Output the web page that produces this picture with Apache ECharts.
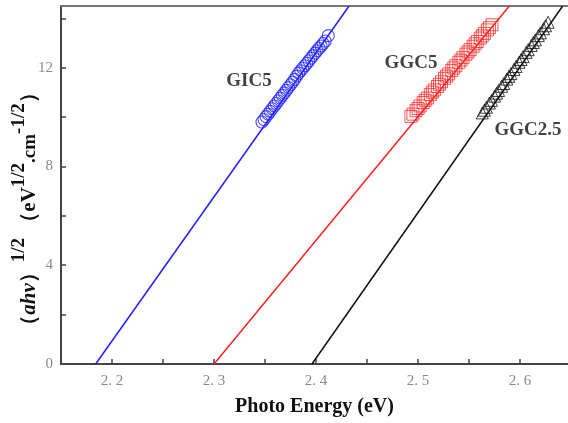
<!DOCTYPE html>
<html><head><meta charset="utf-8">
<script src="https://cdn.jsdelivr.net/npm/echarts@6/dist/echarts.min.js"></script>
<style>html,body{margin:0;padding:0;background:#fff}#c{width:568px;height:423px}</style>
</head><body><div id="c"></div>
<script>
// Measured points
const gic5X = [2.347,2.349,2.351,2.353,2.355,2.357,2.359,2.361,2.363,2.365,2.367,2.369,2.371,2.373,2.375,2.377,2.379,2.381,2.383,2.385,2.387,2.389,2.391,2.393,2.395,2.397,2.399,2.401,2.403,2.405,2.407,2.409,2.412];
const gic5Y = [9.80,9.90,10.02,10.12,10.23,10.34,10.45,10.55,10.66,10.77,10.88,10.98,11.09,11.20,11.31,11.42,11.53,11.66,11.78,11.88,11.98,12.08,12.18,12.28,12.39,12.49,12.59,12.69,12.79,12.88,12.98,13.08,13.30];
const ggc5X = [2.493,2.495,2.498,2.500,2.502,2.505,2.507,2.509,2.512,2.514,2.516,2.519,2.521,2.523,2.526,2.528,2.530,2.533,2.535,2.537,2.540,2.542,2.544,2.547,2.549,2.551,2.554,2.556,2.558,2.561,2.563,2.565,2.568,2.570,2.5725];
const ggc5Y = [10.03,10.12,10.26,10.35,10.45,10.59,10.68,10.77,10.91,11.01,11.10,11.24,11.33,11.43,11.57,11.66,11.75,11.89,11.99,12.08,12.22,12.31,12.41,12.55,12.64,12.73,12.87,12.97,13.06,13.20,13.29,13.39,13.53,13.62,13.74];
const ggc25X = [2.563,2.565,2.567,2.570,2.572,2.575,2.577,2.579,2.582,2.584,2.587,2.589,2.591,2.594,2.596,2.599,2.601,2.603,2.606,2.608,2.611,2.613,2.615,2.618,2.620,2.623,2.625,2.6275];
const ggc25Y = [10.17,10.28,10.40,10.57,10.68,10.85,10.97,11.08,11.25,11.36,11.54,11.65,11.76,11.93,12.05,12.22,12.33,12.45,12.62,12.73,12.90,13.02,13.13,13.30,13.41,13.58,13.70,13.84];
// Linear fits (x-intercept and top end)
const fitGIC5X = [2.184, 2.4324];
const fitGIC5Y = [0, 14.5];
const fitGGC5X = [2.300, 2.5895];
const fitGGC5Y = [0, 14.5];
const fitGGC25X = [2.396, 2.6418];
const fitGGC25Y = [0, 14.5];
// Sample labels
const sampleNames = ['GIC5', 'GGC5', 'GGC2.5'];
const sampleLabelX = [2.3343, 2.4931, 2.6078];
const sampleLabelY = [11.45, 12.20, 9.49];
// Axis ticks
const xTickLabels = ['2. 2', '2. 3', '2. 4', '2. 5', '2. 6'];
const yTickLabels = ['0', '4', '8', '12'];

const zip = (a, b) => a.map((v, i) => [v, b[i]]);
const serif = 'Liberation Serif, Times New Roman, serif';

const chart = echarts.init(document.getElementById('c'), null, {renderer: 'canvas'});
chart.setOption({
  backgroundColor: '#fff',
  animation: false,
  grid: {left: 61, right: 0, top: 6, bottom: 59, containLabel: false, outerBoundsMode: 'none'},
  xAxis: [{
    type: 'value', min: 2.15, max: 2.647, interval: 0.05,
    axisLine: {show: true, lineStyle: {color: '#444', width: 2}},
    axisTick: {show: true, inside: true, length: 5, lineStyle: {color: '#444', width: 1.5}},
    splitLine: {show: false},
    axisLabel: {
      margin: 10, color: '#888', fontFamily: serif, fontSize: 15,
      showMinLabel: false, showMaxLabel: false,
      formatter: v => {
        const k = Math.round(v * 100);
        if (k % 10 !== 0) return '';
        const idx = Math.round((v - 2.2) * 10);
        return xTickLabels[idx] || '';
      }
    },
    name: 'Photo Energy (eV)', nameLocation: 'middle', nameGap: 33, nameMoveOverlap: false,
    nameTextStyle: {fontFamily: serif, fontWeight: 'bold', fontSize: 20, color: '#111'}
  }, {
    type: 'value', position: 'top', min: 2.15, max: 2.647,
    axisLine: {show: true, lineStyle: {color: '#777', width: 2}},
    axisTick: {show: false}, axisLabel: {show: false}, splitLine: {show: false}
  }],
  yAxis: {
    type: 'value', min: 0, max: 14.5, interval: 2,
    axisLine: {show: true, lineStyle: {color: '#444', width: 2}},
    axisTick: {show: true, inside: true, length: 5, lineStyle: {color: '#444', width: 1.5}},
    splitLine: {show: false},
    axisLabel: {
      margin: 8, color: '#888', fontFamily: serif, fontSize: 15,
      showMaxLabel: false,
      formatter: v => {
        const k = Math.round(v);
        if (k % 4 !== 0) return '';
        return yTickLabels[k / 4] || '';
      }
    },
    name: '{p|（}{i|ahv}{p|）}{s|1/2}{p| （eV}{s|1/2}{c|.cm}{s|-1/2}{p|）}',
    nameLocation: 'middle', nameRotate: 90, nameGap: 21, nameMoveOverlap: false,
    nameTextStyle: {
      padding: [0, 48, 0, 0],
      rich: {
        p: {fontFamily: serif, fontWeight: 'bold', fontSize: 21, color: '#111', lineHeight: 30, verticalAlign: 'bottom'},
        i: {fontFamily: serif, fontWeight: 'bold', fontStyle: 'italic', fontSize: 21, color: '#111', lineHeight: 30, verticalAlign: 'bottom'},
        s: {fontFamily: serif, fontWeight: 'bold', fontSize: 19, color: '#111', lineHeight: 18, verticalAlign: 'top'},
        c: {fontFamily: serif, fontWeight: 'bold', fontSize: 19, color: '#111', lineHeight: 28, verticalAlign: 'bottom'}
      }
    }
  },
  series: [
    {type: 'line', data: zip(fitGIC5X, fitGIC5Y), symbol: 'none', lineStyle: {color: '#1f1fff', width: 1.5}, clip: true, z: 2},
    {type: 'line', data: zip(fitGGC5X, fitGGC5Y), symbol: 'none', lineStyle: {color: '#ff1f1f', width: 1.5}, clip: true, z: 2},
    {type: 'line', data: zip(fitGGC25X, fitGGC25Y), symbol: 'none', lineStyle: {color: '#111', width: 1.5}, clip: true, z: 2},
    {type: 'scatter', data: zip(gic5X, gic5Y), symbol: 'circle', symbolSize: 12,
      itemStyle: {color: 'rgba(0,0,0,0)', borderColor: '#2424ff', borderWidth: 1.1}, z: 3},
    {type: 'scatter', data: zip(ggc5X, ggc5Y), symbol: 'rect', symbolSize: 12,
      itemStyle: {color: 'rgba(0,0,0,0)', borderColor: '#ff2a2a', borderWidth: 1}, z: 3},
    {type: 'scatter', data: zip(ggc25X, ggc25Y), symbol: 'triangle', symbolSize: 12,
      itemStyle: {color: 'rgba(0,0,0,0)', borderColor: '#111', borderWidth: 1}, z: 3},
    {type: 'scatter', symbolSize: 0, z: 4, silent: true,
      data: sampleNames.map((n, i) => [sampleLabelX[i], sampleLabelY[i], n]),
      label: {show: true, position: 'inside', formatter: p => p.data[2],
        fontFamily: serif, fontWeight: 'bold', fontSize: 19, color: '#111'}}
  ]
});
</script></body></html>
